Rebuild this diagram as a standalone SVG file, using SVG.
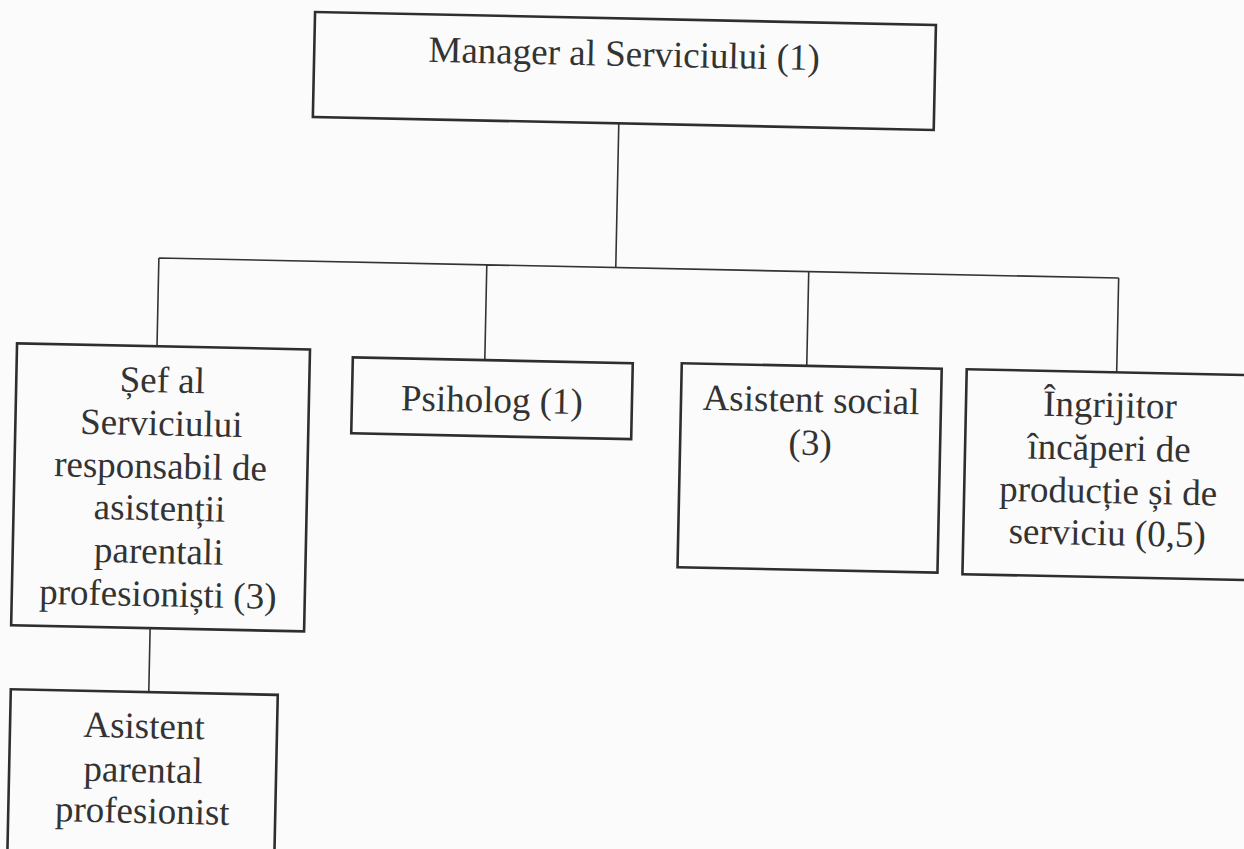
<svg xmlns="http://www.w3.org/2000/svg" width="1244" height="849" viewBox="0 0 1244 849">
<style>
.box{fill:none;stroke:#2e2e2e;stroke-width:2.6}
.conn{fill:none;stroke:#333;stroke-width:1.6}
text{font-family:"Liberation Serif","Times New Roman",serif;font-size:37px;fill:#333;text-anchor:middle}
</style>
<rect width="1244" height="849" fill="#fbfbfb"/>
<g transform="rotate(1.2 622 400)">
<g id="connectors">
<path class="conn" d="M613 123 V267.7 M156 267.7 H1116 M156 267.7 V356 M484 267.7 V363 M806 267.7 V362 M1116 267.7 V362 M155 638 V702"/>
</g>
<g id="manager">
<rect class="box" x="307" y="18.5" width="621" height="105"/>
<text x="617" y="66">Manager al Serviciului (1)</text>
</g>
<g id="sef">
<rect class="box" x="16" y="356" width="293" height="282"/>
<text x="162" y="402">Șef al</text>
<text x="162" y="445">Serviciului</text>
<text x="162" y="488">responsabil de</text>
<text x="162" y="530">asistenții</text>
<text x="162" y="573">parentali</text>
<text x="162" y="616">profesioniști (3)</text>
</g>
<g id="psiholog">
<rect class="box" x="352" y="363" width="280" height="76"/>
<text x="492" y="415">Psiholog (1)</text>
</g>
<g id="asistent-social">
<rect class="box" x="681" y="362" width="260" height="204"/>
<text x="811" y="408">Asistent social</text>
<text x="811" y="451">(3)</text>
</g>
<g id="ingrijitor">
<rect class="box" x="966" y="362" width="300" height="205"/>
<text x="1110" y="407">Îngrijitor</text>
<text x="1110" y="450">încăperi de</text>
<text x="1110" y="493">producție și de</text>
<text x="1110" y="535">serviciu (0,5)</text>
</g>
<g id="asistent-parental">
<rect class="box" x="17" y="702" width="267" height="200"/>
<text x="151" y="748">Asistent</text>
<text x="151" y="792">parental</text>
<text x="151" y="833">profesionist</text>
</g>
</g>
</svg>
